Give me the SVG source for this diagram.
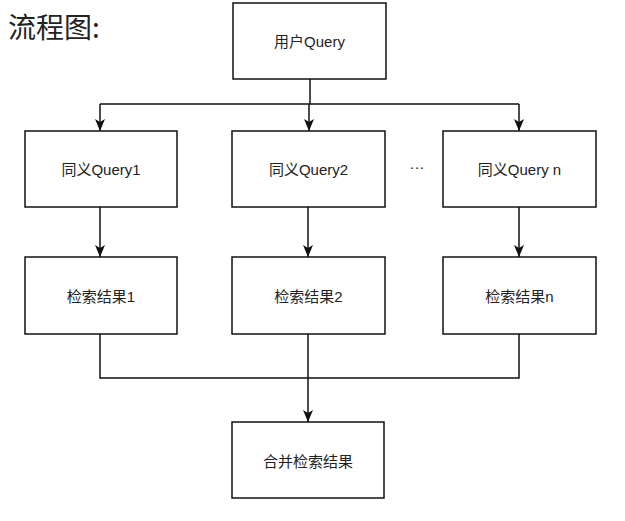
<svg xmlns="http://www.w3.org/2000/svg" width="625" height="521" viewBox="0 0 625 521">
<style>
.box{fill:#fff;stroke:#111;stroke-width:1.5}
.lbl{font-family:"Liberation Sans","Noto Sans CJK SC",sans-serif;font-size:15px;fill:#222;text-anchor:middle;dominant-baseline:central}
.ttl{font-family:"Noto Sans CJK SC",sans-serif;font-size:28px;fill:#222}
.ln{fill:none;stroke:#111;stroke-width:1.5}
</style>
<defs>
<marker id="arr" viewBox="0 0 10 12" refX="5" refY="12" markerWidth="10" markerHeight="12" markerUnits="userSpaceOnUse" orient="auto-start-reverse">
<path d="M0,0 L5,3 L10,0 L5,12 Z" fill="#111" transform="rotate(0)"/>
</marker>
<marker id="ah" viewBox="0 0 12 10" refX="12" refY="5" markerWidth="12" markerHeight="10" markerUnits="userSpaceOnUse" orient="auto">
<path d="M0,0 L12,5 L0,10 L3,5 Z" fill="#111"/>
</marker>
</defs>
<rect width="625" height="521" fill="#fff"/>
<text class="ttl" x="8" y="38">流程图:</text>
<g id="connectors">
<path class="ln" d="M310,79 V104"/>
<path class="ln" d="M100,104 H519"/>
<path class="ln" d="M100,104 V131" marker-end="url(#ah)"/>
<path class="ln" d="M309,104 V131" marker-end="url(#ah)"/>
<path class="ln" d="M519,104 V131" marker-end="url(#ah)"/>
<path class="ln" d="M100,207 V257" marker-end="url(#ah)"/>
<path class="ln" d="M308,207 V257" marker-end="url(#ah)"/>
<path class="ln" d="M519,207 V257" marker-end="url(#ah)"/>
<path class="ln" d="M100,334 V378 H519 V334"/>
<path class="ln" d="M308,334 V422" marker-end="url(#ah)"/>
</g>
<g id="user-query"><rect class="box" x="233" y="3" width="153" height="76"/><text class="lbl" x="309.5" y="41">用户Query</text></g>
<g id="syn-query-1"><rect class="box" x="25" y="131" width="152" height="76"/><text class="lbl" x="101" y="169">同义Query1</text></g>
<g id="syn-query-2"><rect class="box" x="232" y="131" width="153" height="76"/><text class="lbl" x="308.5" y="169">同义Query2</text></g>
<g id="ellipsis"><text class="lbl" x="417" y="166">···</text></g>
<g id="syn-query-n"><rect class="box" x="443" y="131" width="153" height="76"/><text class="lbl" x="519.5" y="169">同义Query n</text></g>
<g id="result-1"><rect class="box" x="25" y="257" width="152" height="77"/><text class="lbl" x="101" y="296">检索结果1</text></g>
<g id="result-2"><rect class="box" x="232" y="257" width="153" height="77"/><text class="lbl" x="308.5" y="296">检索结果2</text></g>
<g id="result-n"><rect class="box" x="443" y="257" width="153" height="77"/><text class="lbl" x="519.5" y="296">检索结果n</text></g>
<g id="merge"><rect class="box" x="232" y="422" width="152" height="76"/><text class="lbl" x="308" y="461">合并检索结果</text></g>
</svg>
